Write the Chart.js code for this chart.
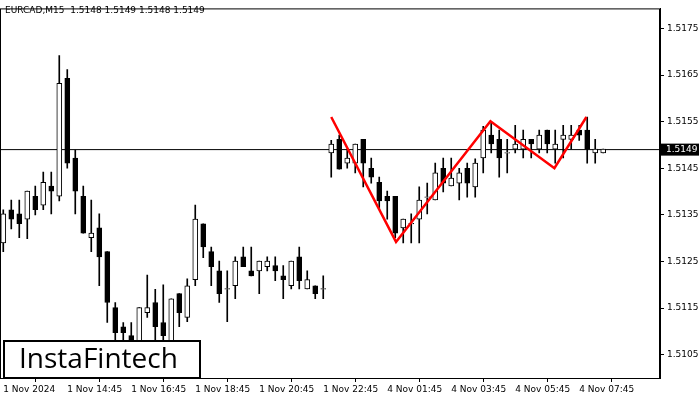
<!DOCTYPE html>
<html><head><meta charset="utf-8">
<script src="https://cdn.jsdelivr.net/npm/chart.js@4.4.0/dist/chart.umd.min.js"></script>
<style>html,body{margin:0;padding:0;background:#fff}#w{width:700px;height:400px}</style>
</head><body><div id="w"><canvas id="c"></canvas></div>
<script>
const opens  = [1.51290,1.51361,1.51352,1.51341,1.51390,1.51371,1.51412,1.51390,1.51643,1.51472,1.51390,1.51301,1.51322,1.51271,1.51151,1.51110,1.51091,1.51075,1.51140,1.51162,1.51119,1.51070,1.51181,1.51130,1.51211,1.51331,1.51271,1.51230,1.51191,1.51198,1.51260,1.51230,1.51230,1.51239,1.51241,1.51219,1.51198,1.51260,1.51191,1.51198,1.51191,1.51483,1.51512,1.51461,1.51461,1.51512,1.51450,1.51420,1.51390,1.51390,1.51322,1.51331,1.51341,1.51388,1.51382,1.51450,1.51412,1.51418,1.51450,1.51410,1.51472,1.51521,1.51512,1.51483,1.51491,1.51491,1.51512,1.51491,1.51532,1.51491,1.51512,1.51512,1.51532,1.51532,1.51483,1.51483];
const closes = [1.51352,1.51341,1.51331,1.51401,1.51361,1.51420,1.51401,1.51632,1.51461,1.51401,1.51311,1.51311,1.51260,1.51162,1.51097,1.51097,1.51082,1.51151,1.51151,1.51110,1.51091,1.51170,1.51140,1.51198,1.51341,1.51281,1.51239,1.51181,1.51191,1.51251,1.51239,1.51219,1.51251,1.51251,1.51230,1.51211,1.51251,1.51209,1.51211,1.51181,1.51191,1.51502,1.51448,1.51472,1.51502,1.51461,1.51431,1.51380,1.51380,1.51311,1.51341,1.51331,1.51382,1.51388,1.51440,1.51418,1.51429,1.51440,1.51418,1.51461,1.51532,1.51502,1.51472,1.51483,1.51502,1.51512,1.51502,1.51521,1.51502,1.51502,1.51521,1.51521,1.51521,1.51491,1.51491,1.51491];
const highs  = [1.51361,1.51382,1.51382,1.51401,1.51412,1.51442,1.51442,1.51692,1.51662,1.51489,1.51412,1.51382,1.51352,1.51271,1.51162,1.51119,1.51119,1.51151,1.51221,1.51190,1.51200,1.51170,1.51181,1.51213,1.51371,1.51331,1.51281,1.51251,1.51230,1.51260,1.51281,1.51281,1.51251,1.51260,1.51260,1.51241,1.51251,1.51281,1.51230,1.51198,1.51219,1.51510,1.51521,1.51491,1.51502,1.51512,1.51472,1.51431,1.51401,1.51390,1.51341,1.51352,1.51410,1.51418,1.51461,1.51472,1.51472,1.51450,1.51461,1.51470,1.51540,1.51549,1.51532,1.51512,1.51542,1.51532,1.51512,1.51532,1.51532,1.51532,1.51542,1.51542,1.51542,1.51560,1.51512,1.51491];
const lows   = [1.51271,1.51320,1.51301,1.51299,1.51350,1.51361,1.51352,1.51380,1.51450,1.51352,1.51311,1.51271,1.51198,1.51119,1.51082,1.51082,1.51070,1.51060,1.51130,1.51070,1.51060,1.51050,1.51110,1.51121,1.51198,1.51258,1.51198,1.51162,1.51121,1.51170,1.51239,1.51219,1.51181,1.51230,1.51209,1.51170,1.51191,1.51191,1.51191,1.51170,1.51170,1.51431,1.51448,1.51450,1.51440,1.51410,1.51418,1.51361,1.51341,1.51301,1.51290,1.51290,1.51290,1.51352,1.51382,1.51399,1.51412,1.51382,1.51388,1.51388,1.51440,1.51483,1.51431,1.51440,1.51483,1.51472,1.51472,1.51483,1.51483,1.51461,1.51472,1.51491,1.51510,1.51461,1.51461,1.51483];
const tickLabels = ["1 Nov 2024","1 Nov 14:45","1 Nov 16:45","1 Nov 18:45","1 Nov 20:45","1 Nov 22:45","4 Nov 01:45","4 Nov 03:45","4 Nov 05:45","4 Nov 07:45"];
const priceTicks = [1.5105,1.5115,1.5125,1.5135,1.5145,1.5155,1.5165,1.5175];
const patternX = [41,49.1,60.9,68.9,72.9];
const patternY = [1.51560,1.51292,1.51551,1.51450,1.51560];
const currentPrice = 1.5149;
const titleText = "EURCAD,M15  1.5148 1.5149 1.5148 1.5149";

const wicks = lows.map((l,i)=>({x:i,y:[l,highs[i]]}));
const bodies = opens.map((o,i)=>{let a=Math.min(o,closes[i]),b=Math.max(o,closes[i]);if(b-a<0.00003){const m=(a+b)/2;a=m-0.000006;b=m+0.000006;}return {x:i,y:[a,b]};});
const bodyColors = opens.map((o,i)=>closes[i]>=o?'#fff':'#000');

const deco = {
  id:'deco',
  afterDraw(ch){
    const c=ch.ctx, ys=ch.scales.y, a=ch.chartArea;
    c.save();
    c.font='9px "DejaVu Sans"';c.fillStyle='#000';c.textBaseline='top';
    c.fillText(titleText,5,6);
    const py=ys.getPixelForValue(currentPrice);
    c.fillStyle='#000';c.fillRect(a.right+1,py-6,38,12);
    c.fillStyle='#fff';c.textBaseline='middle';c.font='9px "DejaVu Sans"';
    c.fillText(currentPrice.toFixed(4),a.right+6,py+0.5);
    c.fillStyle='#fff';c.fillRect(3,340,198,38);
    c.strokeStyle='#000';c.lineWidth=2;c.strokeRect(4,341,196,37);
    c.fillStyle='#000';c.font='500 28px "Open Sans"';c.textBaseline='middle';
    c.fillText('InstaFintech',19,360);
    c.restore();
  }
};

new Chart(document.getElementById('c'),{
  data:{datasets:[
    {type:'line',data:[{x:-1,y:currentPrice},{x:90,y:currentPrice}],borderColor:'#000',borderWidth:1,pointRadius:0,order:3},
    {type:'bar',data:wicks,backgroundColor:'#000',barThickness:1,grouped:false,order:2},
    {type:'bar',data:bodies,backgroundColor:bodyColors,borderColor:'#000',borderWidth:1,borderSkipped:false,barThickness:5,grouped:false,order:1},
    {type:'line',data:patternX.map((x,i)=>({x,y:patternY[i]})),borderColor:'#ff0000',borderWidth:2.5,pointRadius:0,order:0}
  ]},
  options:{animation:false,responsive:true,maintainAspectRatio:false,
    layout:{padding:{top:8,left:0,right:0,bottom:0}},
    plugins:{legend:{display:false},tooltip:{enabled:false}},
    scales:{
      x:{type:'linear',min:-0.41,max:82.1,offset:false,
        afterFit(s){s.height=22;},
        afterBuildTicks(s){s.ticks=tickLabels.map((t,i)=>({value:i*8}));},
        ticks:{autoSkip:false,maxRotation:0,color:'#000',font:{family:'DejaVu Sans',size:9},align:'start',padding:2,
          callback:(v)=>tickLabels[Math.round(v/8)]},
        grid:{drawOnChartArea:false,color:'#000',tickLength:4},border:{color:'#000'}},
      y:{position:'right',min:1.51,max:1.51793,
        afterFit(s){s.width=40;},
        afterBuildTicks(s){s.ticks=priceTicks.map(v=>({value:v}));},
        ticks:{color:'#000',font:{family:'DejaVu Sans',size:9},padding:3,callback:v=>v.toFixed(4)},
        grid:{drawOnChartArea:false,color:'#000',tickLength:4},border:{color:'#000'}}
    }
  },
  plugins:[deco,{id:'frame',afterDraw(ch){const a=ch.chartArea,c=ch.ctx;c.save();c.strokeStyle='#000';c.lineWidth=1;c.strokeRect(a.left+0.5,a.top+0.5,a.right-a.left-1,a.bottom-a.top);c.restore();}}]
});
</script></body></html>
